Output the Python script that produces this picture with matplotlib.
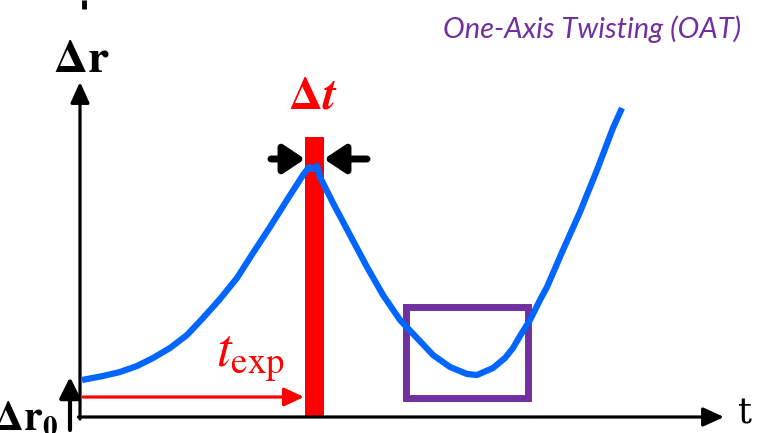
import matplotlib
matplotlib.use("Agg")
import matplotlib.pyplot as plt
from matplotlib.patches import Rectangle

plt.rcParams['mathtext.fontset'] = 'stix'

# Schematic curve (pixel-like coordinates, y grows downward)
curve_x = [82, 103, 120, 137, 153, 170, 187, 203, 220, 237, 253, 270, 287, 303, 309,
           313, 317, 320, 333, 350, 367, 383, 400, 417, 433, 450, 467, 477, 493, 505,
           513, 520, 530, 540, 547, 563, 580, 597, 613, 622]
curve_y = [380, 376, 372, 366, 358, 348, 335, 318, 299, 278, 253, 227, 200, 175, 167,
           169, 166, 177, 203, 235, 267, 295, 320, 338, 355, 367, 374, 375, 368, 358,
           348, 336, 320, 300, 287, 250, 212, 170, 128, 108]

title_text = "One-Axis Twisting (OAT)"
ylabel_text = r"$\mathbf{\Delta r}$"
y0_text = r"$\mathbf{\Delta r_0}$"
xlabel_text = "t"
dt_text = r"$\mathbf{\Delta}\mathbfit{t}$"
texp_text = r"$t_{\mathrm{exp}}$"

BLUE = "#0066FF"
RED = "#FF0000"
PURPLE = "#7030A0"

fig = plt.figure(figsize=(7.65, 4.33), dpi=100)
ax = fig.add_axes([0, 0, 1, 1])
ax.set_xlim(0, 765)
ax.set_ylim(433, 0)
ax.axis('off')

# top stub
ax.plot([84.5, 84.5], [0, 9], color='black', lw=3.5, solid_capstyle='butt')

# axes arrows
ax.annotate('', xy=(80, 82), xytext=(80, 419),
            arrowprops=dict(arrowstyle='-|>,head_length=0.7,head_width=0.32', lw=2.3,
                            color='black', mutation_scale=18, shrinkA=0, shrinkB=0))
ax.annotate('', xy=(724, 417), xytext=(78.5, 417),
            arrowprops=dict(arrowstyle='-|>,head_length=0.7,head_width=0.32', lw=2.3,
                            color='black', mutation_scale=18, shrinkA=0, shrinkB=0))
# small Δr0 arrow
ax.annotate('', xy=(70, 377), xytext=(70, 430),
            arrowprops=dict(arrowstyle='-|>,head_length=0.7,head_width=0.35', lw=3,
                            color='black', mutation_scale=18, shrinkA=0, shrinkB=0))

# red bar
ax.add_patch(Rectangle((305, 137), 19, 281, facecolor=RED, edgecolor='none', zorder=2))

# red t_exp arrow
ax.annotate('', xy=(304, 397), xytext=(83, 397),
            arrowprops=dict(arrowstyle='-|>,head_length=0.75,head_width=0.35', lw=2.3,
                            color=RED, mutation_scale=16, shrinkA=0, shrinkB=0), zorder=3)

# black Δt arrows
ax.annotate('', xy=(305, 159), xytext=(271, 159),
            arrowprops=dict(arrowstyle='-|>,head_length=0.75,head_width=0.5', lw=5,
                            color='black', mutation_scale=17, shrinkA=0, shrinkB=0), zorder=3)
ax.annotate('', xy=(324, 159), xytext=(367, 159),
            arrowprops=dict(arrowstyle='-|>,head_length=0.75,head_width=0.5', lw=5,
                            color='black', mutation_scale=17, shrinkA=0, shrinkB=0), zorder=3)

# purple box
ax.add_patch(Rectangle((406.5, 306.5), 122, 91, facecolor='none', edgecolor=PURPLE,
                       lw=5, zorder=4, joinstyle='miter'))

# blue curve
ax.plot(curve_x, curve_y, color=BLUE, lw=4.5, solid_joinstyle='round',
        solid_capstyle='butt', zorder=5)

# texts
ax.text(81, 60, ylabel_text, ha='center', va='center', fontsize=34, color='black')
ax.text(58, 418, y0_text, ha='right', va='center', fontsize=30, color='black')
ax.text(745, 414, xlabel_text, ha='center', va='center', fontsize=25, color='black',
        family='DejaVu Serif')
ax.text(313, 96, dt_text, ha='center', va='center', fontsize=34, color=RED)
ax.text(250, 357, texp_text, ha='center', va='center', fontsize=38, color=RED)
ax.text(592, 29, title_text, ha='center', va='center', fontsize=21, color=PURPLE,
        family='Lato', style='italic')

fig.savefig('out.png', dpi=100)
